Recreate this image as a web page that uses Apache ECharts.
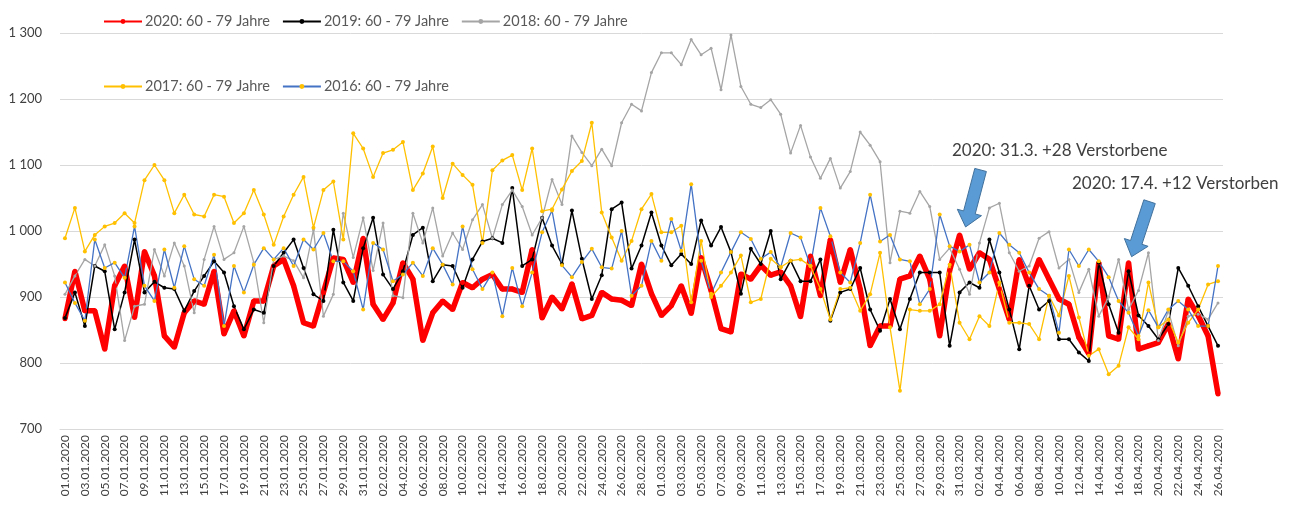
<!DOCTYPE html>
<html>
<head>
<meta charset="utf-8">
<script src="https://cdn.jsdelivr.net/npm/echarts@6/dist/echarts.min.js"></script>
<style>
  html, body { margin: 0; padding: 0; background: #fff; }
  #chart { width: 1290px; height: 510px; }
</style>
</head>
<body>
<div id="chart"></div>
<script>
// Verstorbene pro Tag, Altersgruppe 60 - 79 Jahre, 01.01. - 26.04.
const days = [];
for (let d = new Date(2020, 0, 1); days.length < 117; d.setDate(d.getDate() + 1)) {
  const dd = String(d.getDate()).padStart(2, '0');
  const mm = String(d.getMonth() + 1).padStart(2, '0');
  days.push(dd + '.' + mm + '.2020');
}

const y2020 = [867, 939, 879, 879, 821, 917, 947, 869, 969, 932, 841, 824, 876, 894, 889, 939, 844, 879, 841, 894,
  894, 947, 957, 917, 861, 856, 907, 959, 957, 922, 989, 889, 866, 891, 952, 927, 834, 876, 894, 881,
  922, 914, 927, 934, 912, 912, 907, 972, 868, 900, 882, 920, 867, 872, 907, 897, 895, 887, 950, 905,
  872, 887, 917, 875, 960, 910, 852, 847, 935, 927, 948, 933, 938, 917, 870, 962, 902, 987, 922, 972,
  912, 826, 856, 856, 927, 932, 962, 927, 841, 940, 994, 942, 967, 957, 912, 866, 957, 917, 957, 927,
  897, 889, 839, 814, 952, 841, 836, 952, 821, 826, 831, 859, 806, 897, 872, 841, 753];

const y2019 = [868, 907, 856, 947, 939, 851, 907, 987, 907, 923, 914, 912, 879, 909, 932, 954, 937, 886, 851, 881,
  876, 947, 967, 987, 944, 904, 894, 1002, 922, 894, 974, 1020, 934, 912, 939, 994, 1005, 924, 949, 947,
  914, 957, 984, 989, 982, 1065, 947, 957, 1020, 978, 950, 1031, 958, 897, 933, 1033, 1043, 943, 978, 1028,
  978, 948, 965, 950, 1016, 978, 1006, 968, 905, 973, 950, 1000, 927, 955, 924, 924, 957, 864, 907, 912,
  944, 881, 849, 897, 851, 897, 937, 937, 937, 826, 907, 922, 914, 987, 937, 881, 821, 917, 881, 894,
  836, 836, 816, 803, 952, 889, 846, 939, 872, 856, 836, 859, 944, 917, 886, 856, 826];

const y2018 = [904, 932, 957, 947, 979, 932, 834, 886, 889, 972, 932, 982, 947, 876, 957, 1007, 957, 967, 1007, 952,
  861, 957, 962, 955, 929, 1002, 871, 904, 1027, 960, 1020, 940, 1012, 902, 899, 1027, 982, 1035, 962, 997,
  972, 1017, 1040, 989, 1040, 1062, 1037, 994, 1020, 1078, 1040, 1144, 1119, 1099, 1124, 1099, 1164, 1192, 1182, 1240,
  1270, 1270, 1252, 1290, 1267, 1277, 1214, 1297, 1219, 1192, 1187, 1199, 1177, 1118, 1160, 1112, 1080, 1110, 1065, 1090,
  1150, 1130, 1105, 952, 1030, 1027, 1060, 1037, 957, 974, 942, 904, 982, 1035, 1042, 967, 939, 947, 989, 999,
  944, 957, 907, 942, 871, 900, 957, 881, 910, 967, 834, 879, 826, 871, 874, 866, 891];

const y2017 = [989, 1035, 969, 994, 1007, 1012, 1027, 1012, 1077, 1100, 1077, 1027, 1055, 1025, 1022, 1055, 1052, 1012, 1027, 1062,
  1025, 979, 1022, 1055, 1082, 1005, 1062, 1075, 987, 1148, 1125, 1082, 1118, 1123, 1135, 1062, 1087, 1128, 1050, 1102,
  1085, 1070, 982, 1092, 1107, 1115, 1062, 1125, 1030, 1033, 1063, 1091, 1106, 1164, 1028, 990, 955, 985, 1033, 1056,
  998, 998, 1008, 892, 985, 900, 917, 937, 963, 892, 897, 958, 945, 955, 957, 947, 912, 866, 912, 914,
  879, 904, 967, 854, 758, 881, 879, 879, 889, 949, 861, 836, 871, 856, 922, 861, 861, 859, 836, 902,
  872, 932, 869, 811, 821, 783, 796, 854, 836, 922, 854, 866, 831, 861, 881, 919, 924];

const y2016 = [922, 891, 864, 987, 944, 952, 929, 1007, 917, 894, 972, 914, 977, 927, 917, 964, 856, 947, 907, 949,
  974, 957, 974, 947, 987, 972, 997, 954, 954, 939, 881, 982, 972, 924, 934, 952, 932, 974, 949, 919,
  1007, 942, 912, 937, 871, 944, 886, 937, 998, 1031, 948, 930, 953, 973, 945, 943, 1000, 902, 917, 985,
  955, 1018, 970, 1071, 955, 905, 937, 968, 998, 988, 958, 968, 945, 997, 990, 947, 1035, 992, 937, 922,
  982, 1055, 984, 994, 957, 954, 889, 912, 1025, 977, 969, 979, 922, 937, 997, 979, 967, 937, 912, 902,
  846, 972, 947, 972, 954, 930, 894, 876, 841, 880, 854, 881, 894, 881, 856, 856, 947];

const yTicks = { min: 700, max: 1300, step: 100 };

const FONT = 'Lato';
const chart = echarts.init(document.getElementById('chart'), null, { renderer: 'canvas' });

function thousands(v) {
  return v >= 1000 ? Math.floor(v / 1000) + ' ' + String(v % 1000).padStart(3, '0') : String(v);
}

function line(name, data, color, width, symbolSize, markColor) {
  return {
    name: name,
    type: 'line',
    data: data,
    symbol: 'circle',
    symbolSize: symbolSize,
    showSymbol: true,
    lineStyle: { color: color, width: width },
    itemStyle: { color: markColor || color },
    emphasis: { disabled: true }
  };
}

const legendText = { fontFamily: FONT, fontSize: 14.5, color: '#595959', width: 122, padding: [0, 0, 0, -2] };

chart.setOption({
  animation: false,
  textStyle: { fontFamily: FONT },
  grid: { left: 60, right: 67, top: 33, bottom: 81 },
  legend: [
    { left: 103, top: 14, padding: 0, itemWidth: 38, itemHeight: 6, itemGap: 12, textStyle: legendText,
      data: ['2020: 60 - 79 Jahre', '2019: 60 - 79 Jahre', '2018: 60 - 79 Jahre'] },
    { left: 103, top: 79, padding: 0, itemWidth: 38, itemHeight: 6, itemGap: 12, textStyle: legendText,
      data: ['2017: 60 - 79 Jahre', '2016: 60 - 79 Jahre'] }
  ],
  xAxis: {
    type: 'category',
    data: days,
    boundaryGap: true,
    axisLine: { lineStyle: { color: '#d9d9d9' } },
    axisTick: { show: false },
    axisLabel: { interval: 1, rotate: 90, fontFamily: FONT, fontSize: 12, color: '#404040', margin: 6 }
  },
  yAxis: {
    type: 'value',
    min: yTicks.min,
    max: yTicks.max,
    interval: yTicks.step,
    axisLine: { show: false },
    axisTick: { show: false },
    splitLine: { lineStyle: { color: '#d9d9d9' } },
    axisLabel: { formatter: thousands, fontFamily: FONT, fontSize: 13, color: '#404040', margin: 18 }
  },
  series: [
    line('2020: 60 - 79 Jahre', y2020, '#ff0000', 5.5, 5),
    line('2019: 60 - 79 Jahre', y2019, '#000000', 1.5, 4),
    line('2018: 60 - 79 Jahre', y2018, '#a5a5a5', 1.3, 3),
    line('2017: 60 - 79 Jahre', y2017, '#ffc000', 1.3, 4),
    line('2016: 60 - 79 Jahre', y2016, '#4472c4', 1.3, 4, '#ffc000')
  ]
});

// Hinweis-Pfeile auf die beiden markierten Tage
function arrowPoints(tip, tail) {
  const dx = tip[0] - tail[0], dy = tip[1] - tail[1];
  const len = Math.sqrt(dx * dx + dy * dy);
  const ux = dx / len, uy = dy / len, nx = -uy, ny = ux;
  const shaft = 6, head = 12.5, headLen = 15;
  const neck = [tip[0] - ux * headLen, tip[1] - uy * headLen];
  return [
    [tail[0] + nx * shaft, tail[1] + ny * shaft],
    [neck[0] + nx * shaft, neck[1] + ny * shaft],
    [neck[0] + nx * head, neck[1] + ny * head],
    tip,
    [neck[0] - nx * head, neck[1] - ny * head],
    [neck[0] - nx * shaft, neck[1] - ny * shaft],
    [tail[0] - nx * shaft, tail[1] - ny * shaft]
  ];
}

const notes = [
  { day: '31.03.2020', value: y2020[90], off: [6, -8], back: [15, -57], text: '2020: 31.3. +28 Verstorbene', tx: 952, ty: 152 },
  { day: '17.04.2020', value: y2020[107], off: [3, -6], back: [18, -55], text: '2020: 17.4. +12 Verstorben', tx: 1072, ty: 185 }
];

const graphics = [];
notes.forEach(function (n) {
  const p = chart.convertToPixel({ gridIndex: 0 }, [n.day, n.value]);
  const tip = [p[0] + n.off[0], p[1] + n.off[1]];
  const tail = [tip[0] + n.back[0], tip[1] + n.back[1]];
  graphics.push({
    type: 'polygon', z: 100,
    shape: { points: arrowPoints(tip, tail) },
    style: { fill: '#5b9bd5', stroke: '#41719c', lineWidth: 1 }
  });
  graphics.push({
    type: 'text', z: 100, left: n.tx, top: n.ty - 10,
    style: { text: n.text, fontFamily: FONT, fontSize: 17, fill: '#404040' }
  });
});
chart.setOption({ graphic: graphics });
</script>
</body>
</html>
